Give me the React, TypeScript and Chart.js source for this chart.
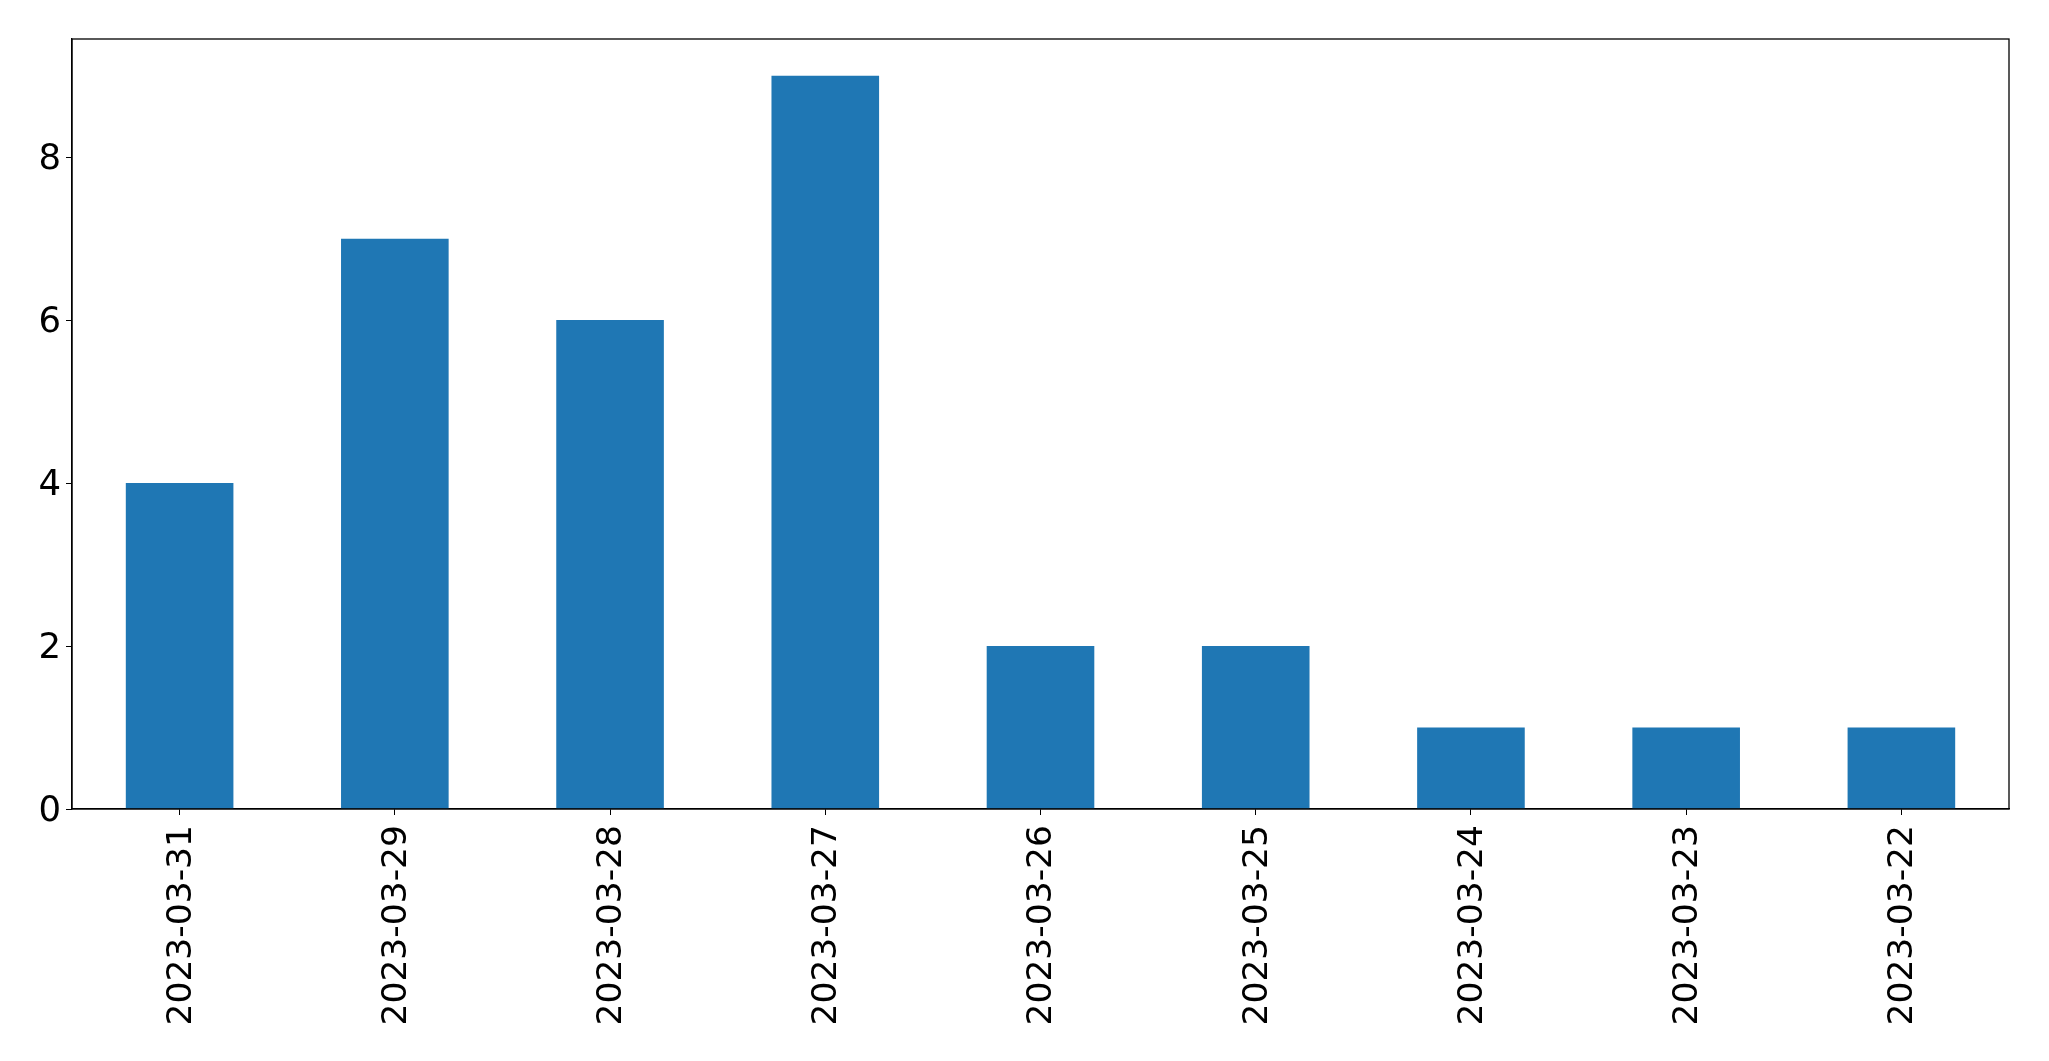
import React, { useEffect, useRef } from "react";
import { Chart, registerables } from "chart.js";

Chart.register(...registerables);

const categories = [
  "2023-03-31",
  "2023-03-29",
  "2023-03-28",
  "2023-03-27",
  "2023-03-26",
  "2023-03-25",
  "2023-03-24",
  "2023-03-23",
  "2023-03-22",
];
const counts = [4, 7, 6, 9, 2, 2, 1, 1, 1];
const yTicks = [0, 2, 4, 6, 8];
const yMax = 9.45;

const frame = {
  id: "frame",
  afterDraw(chart: any) {
    const { ctx, chartArea } = chart;
    ctx.save();
    ctx.strokeStyle = "#000";
    ctx.lineWidth = 1.3;
    ctx.strokeRect(chartArea.left, chartArea.top, chartArea.right - chartArea.left, chartArea.bottom - chartArea.top);
    ctx.restore();
  },
};

export default function App() {
  const ref = useRef<HTMLCanvasElement | null>(null);
  useEffect(() => {
    if (!ref.current) return;
    const xFont = { family: "'DejaVu Sans', sans-serif", size: 34.5 };
    const yFont = { family: "'DejaVu Sans', sans-serif", size: 35.5 };
    const chart = new Chart(ref.current, {
      type: "bar",
      data: {
        labels: categories,
        datasets: [
          {
            data: counts,
            backgroundColor: "#1f77b4",
            borderWidth: 0,
            categoryPercentage: 1,
            barPercentage: 0.5,
          },
        ],
      },
      plugins: [frame],
      options: {
        animation: false,
        responsive: false,
        maintainAspectRatio: false,
        devicePixelRatio: 1,
        layout: { padding: { left: 0, top: 39, right: 40, bottom: 0 } },
        plugins: { legend: { display: false }, tooltip: { enabled: false } },
        scales: {
          x: {
            offset: true,
            grid: { display: true, drawOnChartArea: false, drawTicks: true, tickLength: 6, color: "#000", offset: false },
            border: { display: true, color: "#000", width: 1.3 },
            ticks: { color: "#000", font: xFont, minRotation: 90, maxRotation: 90, padding: 10, autoSkip: false, labelOffset: 2 },
            afterFit: (s: any) => { s.height = 252; },
          },
          y: {
            min: 0,
            max: yMax,
            grid: { display: true, drawOnChartArea: false, drawTicks: true, tickLength: 6, color: "#000" },
            border: { display: true, color: "#000", width: 1.3 },
            ticks: { color: "#000", font: yFont, padding: 5, labelOffset: 3 },
            afterBuildTicks: (s: any) => { s.ticks = yTicks.map((v) => ({ value: v })); },
            afterFit: (s: any) => { s.width = 72; },
          },
        },
      },
    });
    return () => chart.destroy();
  }, []);
  return (
    <div style={{ position: "absolute", left: 0, top: 0, width: 2049, height: 1061, background: "#fff" }}>
      <canvas ref={ref} width={2049} height={1061} style={{ width: 2049, height: 1061 }} />
    </div>
  );
}
